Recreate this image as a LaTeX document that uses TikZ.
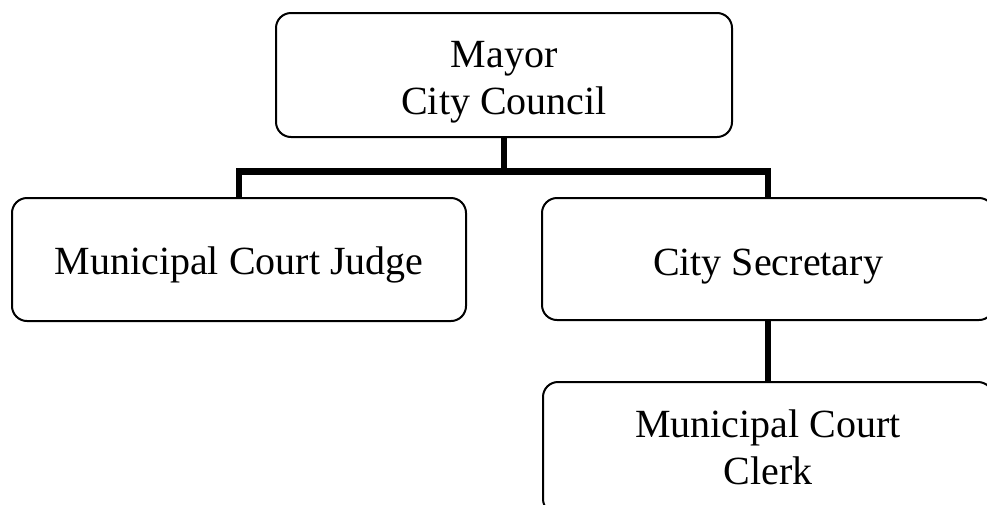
\documentclass[tikz,border=0pt]{standalone}
\usepackage{fontspec}
\setmainfont{Liberation Serif}
\newcommand\uphold[1]{\rule{0pt}{#1}}
\newcommand\downhold[1]{\rule[-#1]{0pt}{#1}}
\begin{document}
\begin{tikzpicture}[x=1pt,y=-1pt,
  orgbox/.style={draw=black, line width=2pt, rounded corners=15pt, fill=white,
    align=center, inner sep=0pt, font=\fontsize{40}{47.5}\selectfont},
  link/.style={draw=black, line width=6.5pt}]
\useasboundingbox (0,0) rectangle (987,504);
\clip (0,0) rectangle (987,504);
\node[orgbox, minimum width=456pt, minimum height=124pt] (mayor) at (504,75)
  {\uphold{41.5pt}Mayor\\City Council\downhold{10pt}};
\node[orgbox, minimum width=454pt, minimum height=123pt] (judge) at (239,259.5)
  {\uphold{40pt}Municipal Court Judge\downhold{11pt}};
\node[orgbox, minimum width=452pt, minimum height=122pt] (sec) at (768,259)
  {\uphold{43pt}City Secretary\downhold{11pt}};
\node[orgbox, minimum width=450pt, minimum height=132pt] (clerk) at (768,448)
  {\uphold{35.5pt}Municipal Court\\Clerk\downhold{10pt}};
\coordinate (bar) at (504,171.5);
\draw[link] (mayor.south) -- (bar);
\draw[link] (judge.north) |- (bar) -| (sec.north);
\draw[link] (sec.south) -- (clerk.north);
\end{tikzpicture}
\end{document}
